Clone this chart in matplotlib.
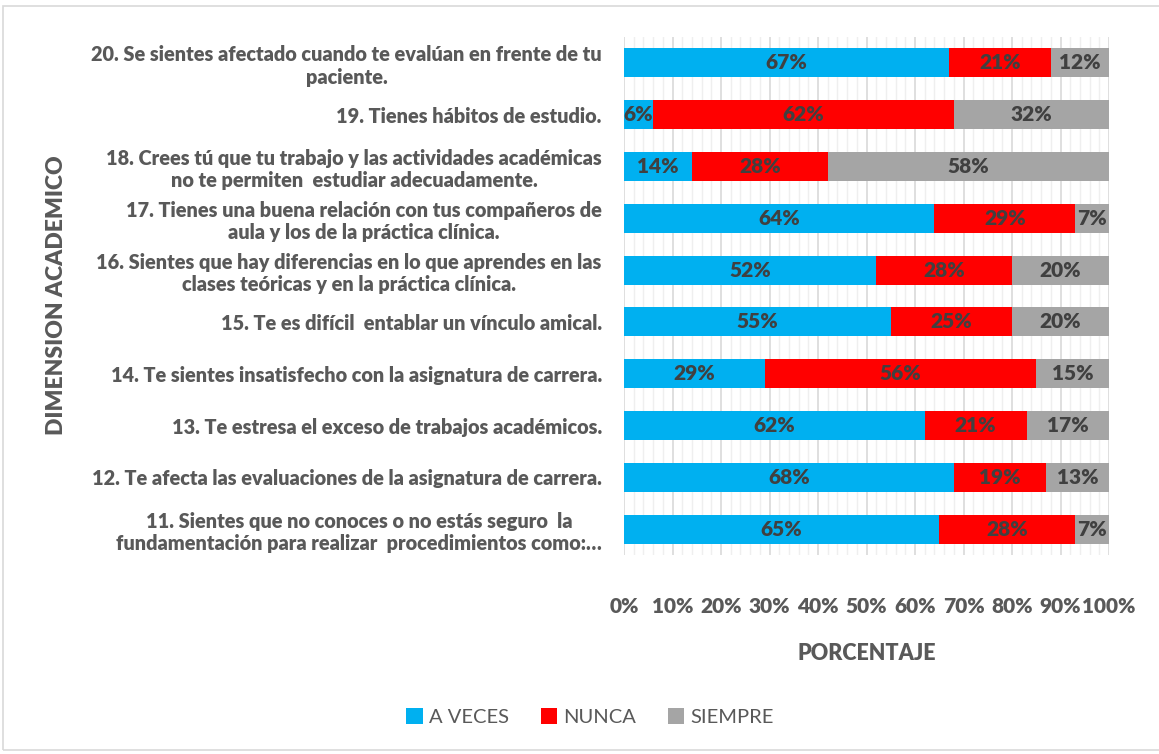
import matplotlib

matplotlib.use("Agg")
import matplotlib.pyplot as plt
from matplotlib.patches import Rectangle
from matplotlib.ticker import MultipleLocator
import numpy as np

# items listed bottom -> top as drawn
items = [
    "11. Sientes que no conoces o no estás seguro  la\nfundamentación para realizar  procedimientos como:…",
    "12. Te afecta las evaluaciones de la asignatura de carrera.",
    "13. Te estresa el exceso de trabajos académicos.",
    "14. Te sientes insatisfecho con la asignatura de carrera.",
    "15. Te es difícil  entablar un vínculo amical.",
    "16. Sientes que hay diferencias en lo que aprendes en las\nclases teóricas y en la práctica clínica.",
    "17. Tienes una buena relación con tus compañeros de\naula y los de la práctica clínica.",
    "18. Crees tú que tu trabajo y las actividades académicas\nno te permiten  estudiar adecuadamente.",
    "19. Tienes hábitos de estudio.",
    "20. Se sientes afectado cuando te evalúan en frente de tu\npaciente.",
]
a_veces = [65, 68, 62, 29, 55, 52, 64, 14, 6, 67]
nunca = [28, 19, 21, 56, 25, 28, 29, 28, 62, 21]
siempre = [7, 13, 17, 15, 20, 20, 7, 58, 32, 12]
x_ticks = list(range(0, 101, 10))

series = [("A VECES", a_veces, "#00b0f0"), ("NUNCA", nunca, "#ff0000"), ("SIEMPRE", siempre, "#a5a5a5")]

FONT = "Lato"
TXT = "#595959"
BOLD = "heavy"

fig = plt.figure(figsize=(11.59, 7.54), dpi=100)
fig.patches.append(Rectangle((3 / 1159, 4 / 754), 1.2, 1 - 10 / 754, transform=fig.transFigure,
                             fill=False, edgecolor="#d9d9d9", linewidth=1.2))
ax = fig.add_axes([0.5384, 0.2639, 0.4185, 0.687])

y = np.arange(len(items))
left = np.zeros(len(items))
for name, vals, color in series:
    vals = np.array(vals, dtype=float)
    ax.barh(y, vals, left=left, height=0.56, color=color, label=name, zorder=3)
    for yi, l, v in zip(y, left, vals):
        ax.text(l + v / 2, yi, f"{int(v)}%", ha="center", va="center", fontsize=15,
                fontweight=BOLD, color="#404040", family=FONT, zorder=4)
    left += vals

ax.set_xlim(0, 100)
ax.set_ylim(-0.5, len(items) - 0.5)
ax.xaxis.set_minor_locator(MultipleLocator(2))
ax.grid(axis="x", which="major", color="#d9d9d9", linewidth=1.2, zorder=0)
ax.grid(axis="x", which="minor", color="#efefef", linewidth=1.0, zorder=0)
ax.tick_params(axis="both", which="both", length=0)
ax.tick_params(axis="x", pad=30)
ax.tick_params(axis="y", pad=16)
for s in ax.spines.values():
    s.set_visible(False)

ax.set_yticks(y)
ax.set_yticklabels(items, ha="right", ma="center", fontsize=14.3, fontweight=BOLD,
                   color=TXT, family=FONT, linespacing=1.2)
ax.set_xticks(x_ticks)
ax.set_xticklabels([f"{v}%" for v in x_ticks], fontsize=15, fontweight=BOLD,
                   color=TXT, family=FONT)

ax.set_xlabel("PORCENTAJE", fontsize=15.5, fontweight=BOLD, color=TXT, family=FONT, labelpad=20)
fig.text(57 / 1159, 1 - 295 / 754, "DIMENSION ACADEMICO", rotation=90, ha="center", va="center",
         fontsize=16.5, fontweight=BOLD, color=TXT, family=FONT)

handles, labels = ax.get_legend_handles_labels()
fig.legend(handles, labels, loc="center", bbox_to_anchor=(590 / 1159, 1 - 717 / 754), ncol=3,
           frameon=False, prop={"family": FONT, "size": 14.5}, labelcolor=TXT,
           handlelength=0.8, handleheight=0.8, handletextpad=0.3, columnspacing=1.6)

fig.savefig("out.png", dpi=100)
